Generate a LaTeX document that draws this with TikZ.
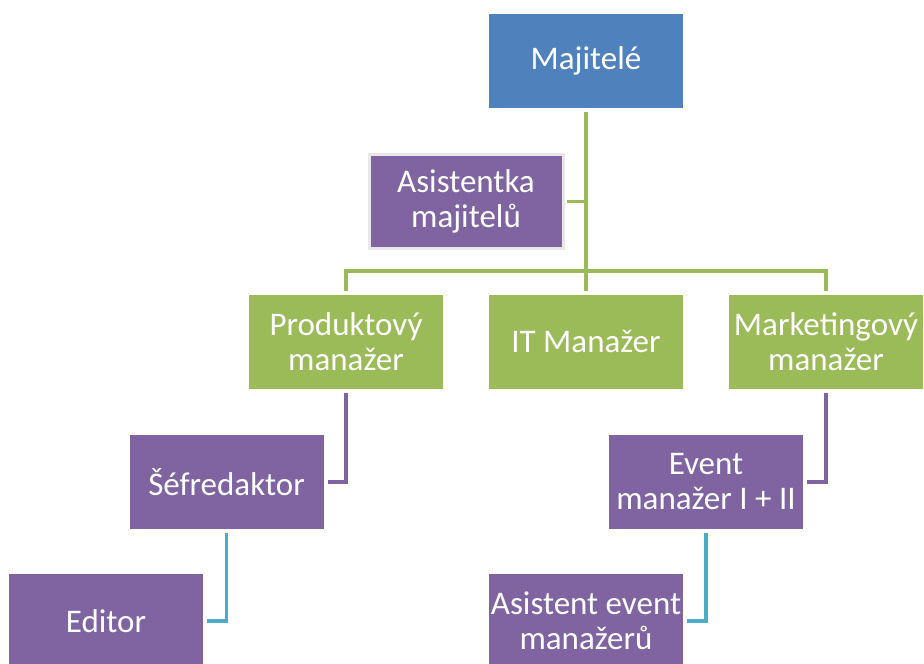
\documentclass[tikz,border=0pt]{standalone}
\usepackage{fontspec}
\setmainfont{Carlito}
\usetikzlibrary{positioning}
\definecolor{ownblue}{HTML}{4F81BD}
\definecolor{mgrgreen}{HTML}{9BBB59}
\definecolor{staffpurple}{HTML}{8064A2}
\definecolor{linkcyan}{HTML}{4BACC6}
\tikzset{role/.style = {rectangle, minimum width=194pt, minimum height=94pt, inner sep=0pt, outer sep=4pt, align=center, text=white, font=\fontsize{33}{35}\selectfont}}
\tikzset{owner/.style = {role, fill=ownblue}}
\tikzset{manager/.style = {role, fill=mgrgreen}}
\tikzset{staff/.style = {role, fill=staffpurple}}
\tikzset{link/.style = {line width=3.5pt}}

\begin{document}
\begin{tikzpicture}[x=1pt, y=-1pt, node distance=38pt]
  \useasboundingbox (0,0) rectangle (924,664);
  \clip (0,0) rectangle (924,664);
  \node [owner] (maj) at (586,60.5) {Majitelé};
  \node [staff, draw=black!9, line width=3pt] (asst) at (466,201.5) {Asistentka\\majitelů};
  \node [manager] (it) at (586,341.5) {IT Manažer};
  \node [manager, left=of it] (prod) {Produktový\\manažer};
  \node [manager, right=of it] (mkt) {Marketingový\\manažer};
  \node [staff] (sef) at (226.5,482) {Šéfredaktor};
  \node [staff] (event) at (706,482) {Event\\manažer I + II};
  \node [staff] (editor) at (106,621) {Editor};
  \node [staff] (asev) at (586,621) {Asistent event\\manažerů};
  \coordinate (bus) at (586,271);

  \draw [link, mgrgreen] (maj.south) -- (it.north);
  \draw [link, mgrgreen] (asst.east) -- (asst.east -| maj.south);
  \draw [link, mgrgreen] (prod.north) |- (bus) -| (mkt.north);

  \draw [link, staffpurple] (prod.south) |- (sef.east);
  \draw [link, staffpurple] (mkt.south) |- (event.east);

  \draw [link, linkcyan] (sef.south) |- (editor.east);
  \draw [link, linkcyan] (event.south) |- (asev.east);
\end{tikzpicture}
\end{document}
